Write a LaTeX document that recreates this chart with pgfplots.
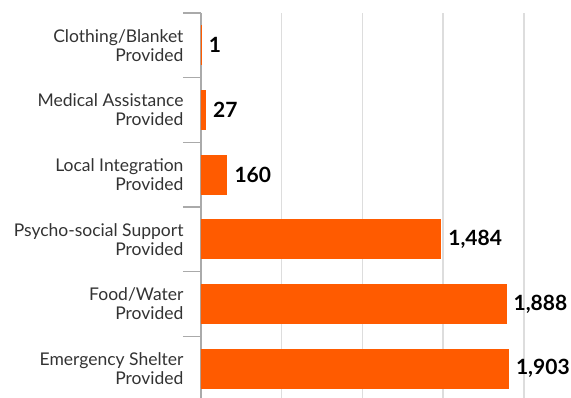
\documentclass[border=0pt]{standalone}
\usepackage{fontspec}
\setmainfont{Lato}
\usepackage{pgfplots}
\pgfplotsset{compat=1.18}
\definecolor{barorange}{HTML}{FF5B00}
\definecolor{gridgray}{HTML}{DDDDDD}
\definecolor{axisgray}{HTML}{AAAAAA}
\definecolor{labelgray}{HTML}{333333}

\begin{document}
\begin{tikzpicture}
\begin{axis}[
    at={(0,0)}, anchor=north west,
    scale only axis,
    width=323pt, height=388pt,
    xbar, bar width=39pt,
    xmin=0, xmax=2000,
    ymin=-0.5, ymax=5.5, y dir=reverse,
    xtick={0,500,...,2000}, xticklabels={},
    xmajorgrids,
    major x grid style={draw=gridgray, line width=1.5pt},
    ytick={0,...,5},
    yticklabels={{Clothing/Blanket\\Provided},{Medical Assistance\\Provided},{Local Integration\\Provided},{Psycho-social Support\\Provided},{Food/Water\\Provided},{Emergency Shelter\\Provided}},
    minor ytick={-0.5,0.5,...,5.5},
    axis y line*=left, axis x line*=bottom,
    x axis line style={draw=none},
    y axis line style={draw=axisgray, line width=1.5pt},
    major tick length=0pt, minor tick length=18pt, tick align=outside,
    minor y tick style={draw=axisgray, line width=1.5pt},
    major x tick style={draw=none},
    yticklabel style={font=\fontsize{17.5}{19}\selectfont, text=labelgray, align=right, xshift=-14pt},
    nodes near coords={\pgfmathprintnumber[assume math mode=true, 1000 sep={,}]{\pgfplotspointmeta}},
    nodes near coords style={font=\fontsize{21}{21}\selectfont\bfseries, text=black, anchor=west, xshift=4pt},
    clip=false,
]
\addplot[fill=barorange, draw=barorange, line width=0.8pt] coordinates {
    (1,0) (27,1) (160,2) (1484,3) (1888,4) (1903,5)
};
\end{axis}
\pgfresetboundingbox
\useasboundingbox (-201pt,13pt) rectangle (370pt,-384pt);
\end{tikzpicture}
\end{document}
